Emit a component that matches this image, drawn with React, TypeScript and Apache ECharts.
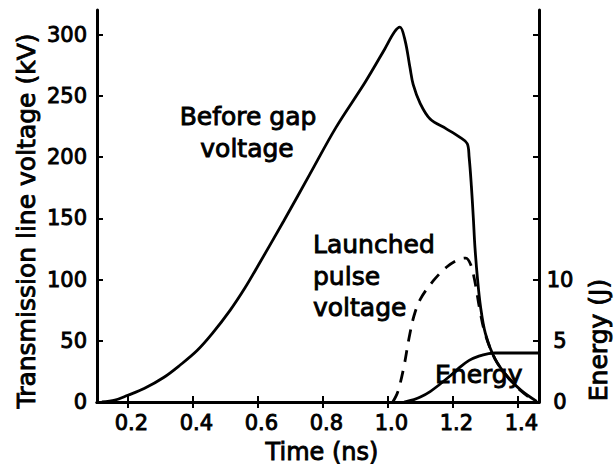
import React, { useEffect, useRef } from "react";
import * as echarts from "echarts";

const xTicks = [0.2, 0.4, 0.6, 0.8, 1.0, 1.2, 1.4];
const voltageTicks = [0, 50, 100, 150, 200, 250, 300];
const energyTicks = [0, 5, 10, 15, 20, 25, 30];
const energyLabels = [0, 5, 10];

const beforeGapTime = [0.12, 0.16, 0.2, 0.25, 0.31, 0.36, 0.413, 0.46, 0.515, 0.56, 0.6, 0.68, 0.76, 0.84, 0.93, 0.99, 1.02, 1.037, 1.053, 1.068, 1.078, 1.099, 1.13, 1.18, 1.222, 1.244, 1.25, 1.257, 1.263, 1.268, 1.276, 1.285, 1.3, 1.33, 1.37, 1.41, 1.458];
const beforeGapKV = [0, 1.5, 5.5, 11, 20, 30, 42, 56, 75, 93, 111, 148, 186, 224, 261, 288, 302, 306, 295, 273, 259, 244, 231, 223, 216, 211, 200, 176, 150, 126, 100, 78, 56, 35, 20, 9.5, 0.5];

const launchedTime = [1.015, 1.03, 1.048, 1.065, 1.08, 1.1, 1.14, 1.18, 1.215, 1.24, 1.255, 1.268, 1.283, 1.3, 1.33, 1.37, 1.41, 1.455];
const launchedKV = [0, 8, 27, 52, 70, 84, 99, 110, 116, 117.5, 112, 98, 75, 55, 35, 20, 9, 0];

const energyTime = [1.05, 1.08, 1.1, 1.13, 1.16, 1.19, 1.22, 1.25, 1.28, 1.31, 1.33, 1.465];
const energyJ = [0, 0.2, 0.4, 0.85, 1.45, 2.1, 2.8, 3.4, 3.75, 3.95, 4.0, 4.0];

const FONT = "DejaVu Sans";

export default function App() {
  const ref = useRef<HTMLDivElement>(null);
  useEffect(() => {
    const chart = echarts.init(ref.current!, null, { renderer: "svg" });
    const zip = (xs: number[], ys: number[]) => xs.map((x, i) => [x, ys[i]]);
    const axisLine = { show: true, lineStyle: { color: "#000", width: 3 } };
    const tick = (vals: number[]) => ({
      show: true,
      inside: true,
      length: 6,
      lineStyle: { color: "#000", width: 2 },
      customValues: vals,
    });
    const labelStyle = {
      fontFamily: FONT,
      fontSize: 21,
      color: "#000",
      textBorderColor: "#000",
      textBorderWidth: 0.9,
    };
    const txt = (
      text: string,
      x: number,
      y: number,
      align: string,
      fontSize = 25,
      rotation = 0
    ) => ({
      type: "text",
      x,
      y,
      rotation,
      silent: true,
      z: 100,
      style: {
        text,
        fill: "#000",
        fontFamily: FONT,
        fontSize,
        align,
        verticalAlign: "middle",
        stroke: "#000",
        lineWidth: 0.9,
      },
    });
    const lineSeries = (data: number[][], yAxisIndex: number, dashed: boolean, name: string) => ({
      type: "line",
      name,
      data,
      yAxisIndex,
      showSymbol: false,
      symbol: "none",
      smooth: 0.35,
      lineStyle: {
        color: "#000",
        width: 2.8,
        type: dashed ? [12, 9] : "solid",
      },
    });
    chart.setOption({
      animation: false,
      backgroundColor: "#fff",
      grid: { left: 97, right: 76, top: 10, bottom: 68 },
      xAxis: [
        {
          type: "value",
          position: "bottom",
          min: 0.105,
          max: 1.465,
          axisLine,
          axisTick: tick(xTicks),
          splitLine: { show: false },
          axisLabel: {
            ...labelStyle,
            customValues: xTicks,
            formatter: (v: number) => v.toFixed(1),
            margin: 10,
            padding: [0, 0, 0, 7],
          },
        },
        {
          type: "value",
          position: "top",
          min: 0.105,
          max: 1.465,
          axisLine,
          axisTick: tick(xTicks),
          splitLine: { show: false },
          axisLabel: { show: false },
        },
      ],
      yAxis: [
        {
          type: "value",
          position: "left",
          min: 0,
          max: 320,
          axisLine,
          axisTick: tick(voltageTicks),
          splitLine: { show: false },
          axisLabel: { ...labelStyle, customValues: voltageTicks, margin: 10 },
        },
        {
          type: "value",
          position: "right",
          min: 0,
          max: 32,
          axisLine,
          axisTick: tick(energyTicks),
          splitLine: { show: false },
          axisLabel: { ...labelStyle, customValues: energyLabels, margin: 21, align: "center" },
        },
      ],
      series: [
        lineSeries(zip(beforeGapTime, beforeGapKV), 0, false, "Before gap voltage"),
        lineSeries(zip(launchedTime, launchedKV), 0, true, "Launched pulse voltage"),
        lineSeries(zip(energyTime, energyJ), 1, false, "Energy"),
      ],
      graphic: [
        txt("Transmission line voltage (kV)", 26.3, 221, "center", 25, Math.PI / 2),
        txt("Energy (J)", 598.4, 340, "center", 25, Math.PI / 2),
        txt("Time (ns)", 322, 451.7, "center", 24),
        txt("Before gap", 248, 116.4, "center"),
        txt("voltage", 247, 148, "center"),
        txt("Launched", 313, 244.5, "left"),
        txt("pulse", 313, 276, "left"),
        txt("voltage", 313, 307, "left"),
        txt("Energy", 435, 374, "left"),
      ],
    });
    return () => chart.dispose();
  }, []);
  return (
    <div
      ref={ref}
      style={{ position: "fixed", left: 0, top: 0, width: 615, height: 470 }}
    />
  );
}
